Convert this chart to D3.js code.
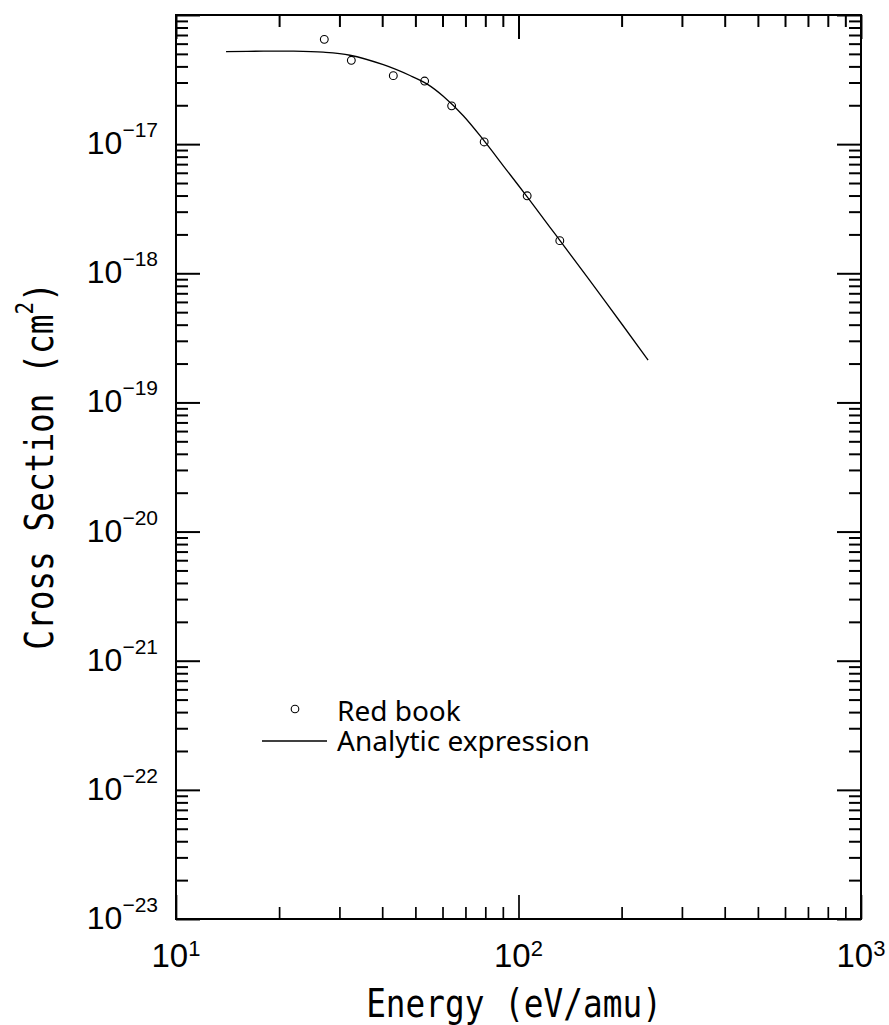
<!DOCTYPE html>
<html>
<head>
<meta charset="utf-8">
<script src="https://cdn.jsdelivr.net/npm/d3@7"></script>
<style>
  html, body { margin: 0; padding: 0; background: #ffffff; }
  svg { display: block; }
</style>
</head>
<body>
<script>
// ---------------- data ----------------
const xMajorTicks = [10, 100, 1000];
const xMinorTicks = [20, 30, 40, 50, 60, 70, 80, 90, 200, 300, 400, 500, 600, 700, 800, 900];
const xTickExponents = ["1", "2", "3"];

const yMajorTicks = [1e-23, 1e-22, 1e-21, 1e-20, 1e-19, 1e-18, 1e-17, 1e-16];
const yMinorMantissas = [2, 3, 4, 5, 6, 7, 8, 9];
const yLabelTicks = [1e-23, 1e-22, 1e-21, 1e-20, 1e-19, 1e-18, 1e-17];
const yTickExponents = ["\u221223", "\u221222", "\u221221", "\u221220", "\u221219", "\u221218", "\u221217"];

// Red book data points (energy in eV/amu, cross section in cm^2)
const redBookEnergy = [27.1, 32.5, 43.1, 53.2, 63.8, 79.4, 106, 132];
const redBookSigma  = [6.48e-17, 4.46e-17, 3.39e-17, 3.08e-17, 1.98e-17, 1.04e-17, 3.98e-18, 1.79e-18];

// Analytic expression curve
const analyticEnergy = [14.0, 18.0, 22.0, 26.9, 32.2, 40.3, 48.2, 54.0, 60.3, 69.0, 79.4, 90.3, 105.9, 123.6, 132.2, 178, 239];
const analyticSigma  = [5.20e-17, 5.25e-17, 5.25e-17, 5.15e-17, 4.88e-17, 4.12e-17, 3.40e-17, 2.93e-17, 2.35e-17, 1.66e-17, 1.06e-17, 6.80e-18, 3.92e-18, 2.27e-18, 1.79e-18, 6.20e-19, 2.13e-19];

const legendLabels = ["Red book", "Analytic expression"];
const xTitle = "Energy (eV/amu)";
const yTitleMain = "Cross Section (cm";
const yTitleSup = "2";
const yTitleEnd = ")";

// ---------------- layout ----------------
const W = 889, H = 1025;
const pLeft = 176, pRight = 861, pTop = 15, pBottom = 919;

const svg = d3.select("body").append("svg").attr("width", W).attr("height", H);

const x = d3.scaleLog().domain([10, 1000]).range([pLeft, pRight]);
const y = d3.scaleLog().domain([1e-23, 1e-16]).range([pBottom, pTop]);

const yMinorTicks = [];
yMajorTicks.slice(0, -1).forEach(d => yMinorMantissas.forEach(m => yMinorTicks.push(d * m)));

function styleAxis(g, w) {
  g.select(".domain").remove();
  g.selectAll(".tick line").attr("stroke", "#000").attr("stroke-width", w);
  g.selectAll(".tick text").remove();
}

const MAJ = 24, MIN = 12;
// bottom
svg.append("g").attr("transform", `translate(0,${pBottom})`)
  .call(d3.axisBottom(x).tickValues(xMajorTicks).tickSize(-MAJ).tickFormat("")).call(g => styleAxis(g, 1.7));
svg.append("g").attr("transform", `translate(0,${pBottom})`)
  .call(d3.axisBottom(x).tickValues(xMinorTicks).tickSize(-MIN).tickFormat("")).call(g => styleAxis(g, 1.7));
// top
svg.append("g").attr("transform", `translate(0,${pTop})`)
  .call(d3.axisTop(x).tickValues(xMajorTicks).tickSize(-MAJ).tickFormat("")).call(g => styleAxis(g, 2));
svg.append("g").attr("transform", `translate(0,${pTop})`)
  .call(d3.axisTop(x).tickValues(xMinorTicks).tickSize(-MIN).tickFormat("")).call(g => styleAxis(g, 2));
// left
svg.append("g").attr("transform", `translate(${pLeft},0)`)
  .call(d3.axisLeft(y).tickValues(yMajorTicks).tickSize(-MAJ).tickFormat("")).call(g => styleAxis(g, 2));
svg.append("g").attr("transform", `translate(${pLeft},0)`)
  .call(d3.axisLeft(y).tickValues(yMinorTicks).tickSize(-MIN).tickFormat("")).call(g => styleAxis(g, 2));
// right
svg.append("g").attr("transform", `translate(${pRight},0)`)
  .call(d3.axisRight(y).tickValues(yMajorTicks).tickSize(-MAJ).tickFormat("")).call(g => styleAxis(g, 2));
svg.append("g").attr("transform", `translate(${pRight},0)`)
  .call(d3.axisRight(y).tickValues(yMinorTicks).tickSize(-MIN).tickFormat("")).call(g => styleAxis(g, 2));

// frame
svg.append("rect").attr("x", pLeft).attr("y", pTop).attr("width", pRight - pLeft).attr("height", pBottom - pTop)
  .attr("fill", "none").attr("stroke", "#000").attr("stroke-width", 2);

// tick labels
const labelFont = "'Liberation Sans', Arial, sans-serif";
xMajorTicks.forEach((v, i) => {
  const t = svg.append("text").attr("x", x(v)).attr("y", 967).attr("text-anchor", "middle")
    .attr("font-family", labelFont).attr("font-size", 33).attr("fill", "#000");
  t.append("tspan").text("10");
  t.append("tspan").attr("font-size", 22).attr("dy", -11).text(xTickExponents[i]);
});
yLabelTicks.forEach((v, i) => {
  const t = svg.append("text").attr("x", 158).attr("y", y(v) + 10).attr("text-anchor", "end")
    .attr("font-family", labelFont).attr("font-size", 32).attr("fill", "#000");
  t.append("tspan").text("10");
  t.append("tspan").attr("font-size", 21).attr("dy", -17).text(yTickExponents[i]);
});

// axis titles
const titleFont = "'DejaVu Sans Mono', monospace";
svg.append("g").attr("transform", `translate(514,1017) scale(0.84,1)`)
  .append("text").attr("text-anchor", "middle").attr("font-family", titleFont).attr("font-size", 39)
  .attr("fill", "#000").text(xTitle);

const yt = svg.append("g").attr("transform", `translate(53,466) rotate(-90) scale(0.84,1)`)
  .append("text").attr("text-anchor", "middle").attr("font-family", titleFont).attr("font-size", 39).attr("fill", "#000");
yt.append("tspan").text(yTitleMain);
yt.append("tspan").attr("font-size", 25).attr("dy", -20).text(yTitleSup);
yt.append("tspan").attr("dy", 20).text(yTitleEnd);

// analytic curve
const line = d3.line().x(d => x(d[0])).y(d => y(d[1])).curve(d3.curveCatmullRom.alpha(0.5));
svg.append("path").datum(analyticEnergy.map((e, i) => [e, analyticSigma[i]]))
  .attr("d", line).attr("fill", "none").attr("stroke", "#000").attr("stroke-width", 1.3);

// red book points
svg.append("g").selectAll("circle").data(redBookEnergy.map((e, i) => [e, redBookSigma[i]]))
  .join("circle").attr("cx", d => x(d[0])).attr("cy", d => y(d[1])).attr("r", 3.9)
  .attr("fill", "none").attr("stroke", "#000").attr("stroke-width", 1.1);

// legend
const legFont = "'Noto Sans', 'Open Sans', sans-serif";
svg.append("circle").attr("cx", 295).attr("cy", 709).attr("r", 3.8)
  .attr("fill", "none").attr("stroke", "#000").attr("stroke-width", 1.1);
svg.append("text").attr("x", 337).attr("y", 721).attr("font-family", legFont).attr("font-size", 28)
  .attr("fill", "#000").text(legendLabels[0]);
svg.append("line").attr("x1", 262).attr("x2", 327).attr("y1", 741).attr("y2", 741)
  .attr("stroke", "#000").attr("stroke-width", 1.3);
svg.append("text").attr("x", 337).attr("y", 751).attr("font-family", legFont).attr("font-size", 28)
  .attr("fill", "#000").text(legendLabels[1]);
</script>
</body>
</html>
